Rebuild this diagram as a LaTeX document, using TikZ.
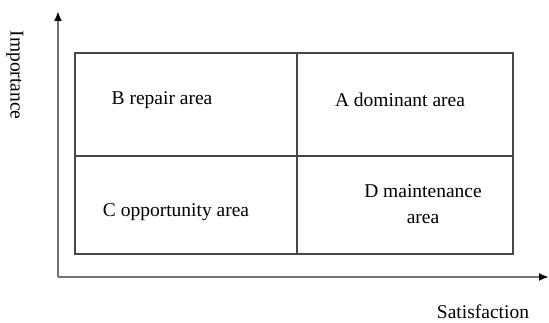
\documentclass[tikz,border=0pt]{standalone}
\usepackage{fontspec}
\setmainfont{Liberation Serif}
\usetikzlibrary{arrows.meta}

\begin{document}
\begin{tikzpicture}[x=1pt,y=1pt,
    axis/.style={draw=black!55, line width=2.4pt, -{Latex[length=10pt,width=8pt,fill=black,color=black]}},
    grid/.style={draw=black!72, line width=1.8pt},
    lbl/.style={font=\fontsize{19.5}{26}\selectfont, inner sep=0pt}]
    \useasboundingbox (0,0) rectangle (549,322);

    % axes
    \coordinate (O) at (58,45);
    \coordinate (ytop) at (58,311);
    \coordinate (xend) at (549,45);
    \draw[axis] (O)--(ytop);
    \draw[axis] (O)--(xend);

    % quadrants
    \coordinate (sw) at (75,68);
    \coordinate (ne) at (513,269);
    \coordinate (ms) at (297,68);
    \coordinate (mn) at (297,269);
    \coordinate (mw) at (75,166);
    \coordinate (me) at (513,166);
    \draw[grid] (sw) rectangle (ne);
    \draw[grid] (ms)--(mn);
    \draw[grid] (mw)--(me);

    \node[lbl] (B) at (162,222) {B repair area};
    \node[lbl] (A) at (400,222) {A dominant area};
    \node[lbl] (C) at (176,110) {C opportunity area};
    \node[lbl, align=center] (D) at (423,118) {D maintenance\\area};

    \node[lbl] (xlab) at (483,10) {Satisfaction};
    \node[lbl, rotate=-90] (ylab) at (15,247) {Importance};
\end{tikzpicture}
\end{document}
